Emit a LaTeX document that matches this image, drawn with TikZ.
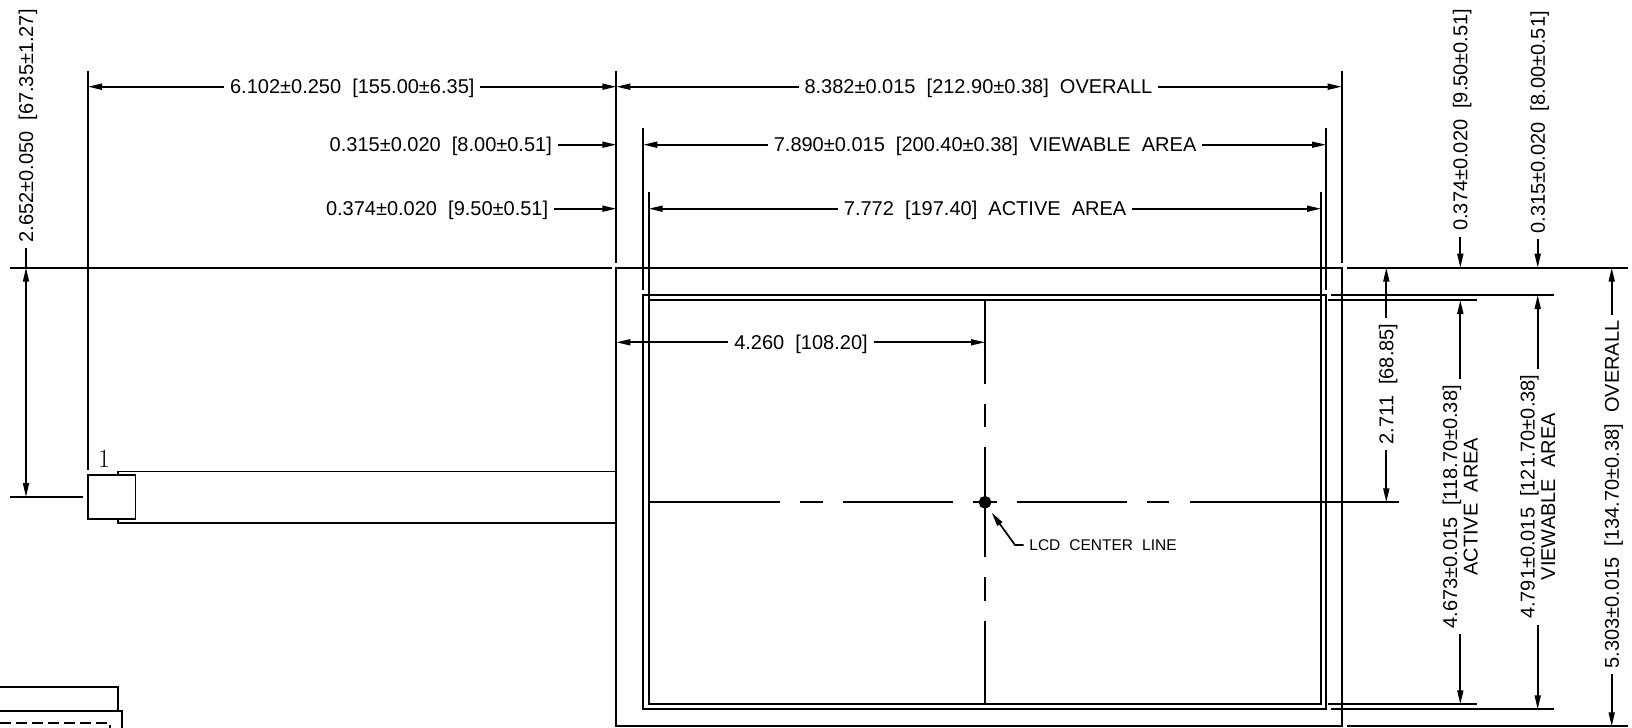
\documentclass[tikz,border=0pt]{standalone}
\usepackage{fontspec}
\setsansfont{Liberation Sans}
\usepackage{tikz}
\usetikzlibrary{positioning}
\usetikzlibrary{arrows.meta}
\begin{document}
\begin{tikzpicture}[x=1pt, y=-1pt, on grid, line width=1.7pt, arr/.style={-{Triangle[length=14pt,width=6pt]}}, both/.style={{Triangle[length=14pt,width=6pt]}-{Triangle[length=14pt,width=6pt]}}, dimt/.style={font=\sffamily\fontsize{20}{21}\selectfont, inner sep=5pt, text height=14.3pt, text depth=0pt}, dimv/.style={dimt, rotate=90}, dimw/.style={font=\sffamily\fontsize{20}{20.5}\selectfont, inner sep=5pt, align=center, rotate=90}, hv/.style={line width=2.3pt}]
\path[use as bounding box, line width=0pt] (0,0) rectangle (1632,727.5);
\coordinate (D1) at (88,86.7);
\coordinate (D2) at (616.3,86.7);
\coordinate (D3) at (1341.7,86.7);
\coordinate (D4) at (616.3,144.7);
\coordinate (D5) at (643.3,144.7);
\coordinate (D6) at (1326,144.7);
\coordinate (D7) at (616.3,208.7);
\coordinate (D8) at (648.7,208.7);
\coordinate (D9) at (1321,208.7);
\coordinate (D10) at (616.3,342.3);
\coordinate (D11) at (985,342.3);
\coordinate (D12) at (26,267.7);
\coordinate (D13) at (26,497);
\coordinate (D15) at (1460.3,267.7);
\coordinate (D16) at (1537.7,267.7);
\coordinate (D17) at (1460.3,300);
\coordinate (D18) at (1460.3,704.3);
\coordinate (D19) at (1537.7,295);
\coordinate (D20) at (1537.7,709.3);
\coordinate (D21) at (1611.7,267.7);
\coordinate (D22) at (1611.7,726.3);
\coordinate (D23) at (1386.3,267.7);
\coordinate (D24) at (1386.3,502.3);
\node[dimt] (T1) [right = 264.3pt of D1, anchor=center] {6.102±0.250\ \ [155.00±6.35]};
\node[dimt] (T2) [right = 362.1pt of D2, anchor=center] {8.382±0.015\ \ [212.90±0.38]\ \ OVERALL};
\node[dimt] (T3) [left = 175.5pt of D4, anchor=center] {0.315±0.020\ \ [8.00±0.51]};
\node[dimt] (T4) [right = 341.8pt of D5, anchor=center] {7.890±0.015\ \ [200.40±0.38]\ \ VIEWABLE\ \ AREA};
\node[dimt] (T5) [left = 179.2pt of D7, anchor=center] {0.374±0.020\ \ [9.50±0.51]};
\node[dimt] (T6) [right = 336.4pt of D8, anchor=center] {7.772\ \ [197.40]\ \ ACTIVE\ \ AREA};
\node[dimt] (T7) [right = 184.7pt of D10, anchor=center] {4.260\ \ [108.20]};
\node[dimv] (T8) [above = 141.7pt of D12, anchor=center] {2.652±0.050\ \ [67.35±1.27]};
\node[dimv] (T9) [above = 148pt of D15, anchor=center] {0.374±0.020\ \ [9.50±0.51]};
\node[dimv] (T10) [above = 145.4pt of D16, anchor=center] {0.315±0.020\ \ [8.00±0.51]};
\node[dimw] (T11) [below = 206.7pt of D17, anchor=center] {4.673±0.015\ \ [118.70±0.38]\\ACTIVE\ \ AREA};
\node[dimw] (T12) [below = 201.7pt of D19, anchor=center] {4.791±0.015\ \ [121.70±0.38]\\VIEWABLE\ \ AREA};
\node[dimv] (T13) [below = 226.7pt of D21, anchor=center] {5.303±0.015\ \ [134.70±0.38]\ \ OVERALL};
\node[dimv] (T14) [below = 116.3pt of D23, anchor=center] {2.711\ \ [68.85]};
\node[font=\sffamily\fontsize{15.5}{17}\selectfont, inner sep=0pt] (T15) at (1103,545) {LCD\ \hspace{4.7pt}CENTER\ \hspace{4.7pt}LINE};
\node[font=\fontsize{26}{28}\selectfont, inner sep=0pt] (N1) at (104,459) {1};
\node[draw, fill=black, circle, minimum width=11pt, inner sep=0pt] (C1) at (985,502.3) {};
\node[draw, minimum width=47.5pt, minimum height=44pt, inner sep=0pt] (P1) at (111.75,497) {};
\coordinate (E1) at (1015,545);
\coordinate (E2) at (991.7,512.7);
\path (T1) edge[arr] (D1)
(T1) edge[arr] (D2)
(T2) edge[arr] (D2)
(T2) edge[arr] (D3)
(T3) edge[arr] (D4)
(T4) edge[arr] (D5)
(T4) edge[arr] (D6)
(T5) edge[arr] (D7)
(T6) edge[arr] (D8)
(T6) edge[arr] (D9)
(T7) edge[arr] (D10)
(T7) edge[arr] (D11)
(T8) edge (D12)
(D12) edge[both] (D13)
(T9) edge[arr] (D15)
(T10) edge[arr] (D16)
(T11) edge[arr] (D17)
(T11) edge[arr] (D18)
(T12) edge[arr] (D19)
(T12) edge[arr] (D20)
(T13) edge[arr] (D21)
(T13) edge[arr] (D22)
(T14) edge[arr] (D23)
(T14) edge[arr] (D24);
\draw[arr] ([xshift=-5pt]T15.west) -- (E1) -- (E2);
\draw (88,70.7) -- (88,470);
\draw (10,497) -- (83.3,497);
\draw (10,267.7) -- (611.7,267.7);
\draw (616.3,70.7) -- (616.3,262.7);
\draw[hv] (616.3,128) -- (616.3,262.7);
\draw (1341.7,70.7) -- (1341.7,262.7);
\draw (643.3,128.3) -- (643.3,290);
\draw (1326,128.3) -- (1326,290);
\draw (648.7,192.3) -- (648.7,300);
\draw (1321,192.3) -- (1321,300);
\draw (616.3,267.7) rectangle (1341.7,726.3);
\draw (643.3,295) rectangle (1326,709.3);
\draw (648.7,300) rectangle (1321,704.3);
\draw (1346.7,267.7) -- (1628,267.7);
\draw[hv] (1346.7,267.7) -- (1553,267.7);
\draw[hv] (1331,295) -- (1554,295);
\draw[hv] (1327.6,300) -- (1476.7,300);
\draw[hv] (1327.6,704.3) -- (1476.7,704.3);
\draw[hv] (1331,709.3) -- (1554,709.3);
\draw (1346.7,726.3) -- (1628,726.3);
\draw (118,475) -- (118,471.5) -- (616.3,471.5);
\draw (118,519) -- (118,523) -- (616.3,523);
\draw (0,687.3) -- (118,687.3) -- (118,710.7);
\draw[hv] (0,710.7) -- (122.3,710.7) -- (122.3,729);
\draw[dash pattern=on 11pt off 5pt] (0,722.7) -- (110,722.7) -- (110,729);
\draw (649,502.3) -- (780,502.3) (800,502.3) -- (823.3,502.3) (843.3,502.3) -- (953.3,502.3) (973.3,502.3) -- (996.7,502.3) (1016.7,502.3) -- (1126.7,502.3) (1146.7,502.3) -- (1169.3,502.3) (1190,502.3) -- (1399,502.3);
\draw (985,300) -- (985,384) (985,404) -- (985,427.3) (985,447.3) -- (985,556.7) (985,577.3) -- (985,600.7) (985,620.7) -- (985,704.3);
\end{tikzpicture}
\end{document}
